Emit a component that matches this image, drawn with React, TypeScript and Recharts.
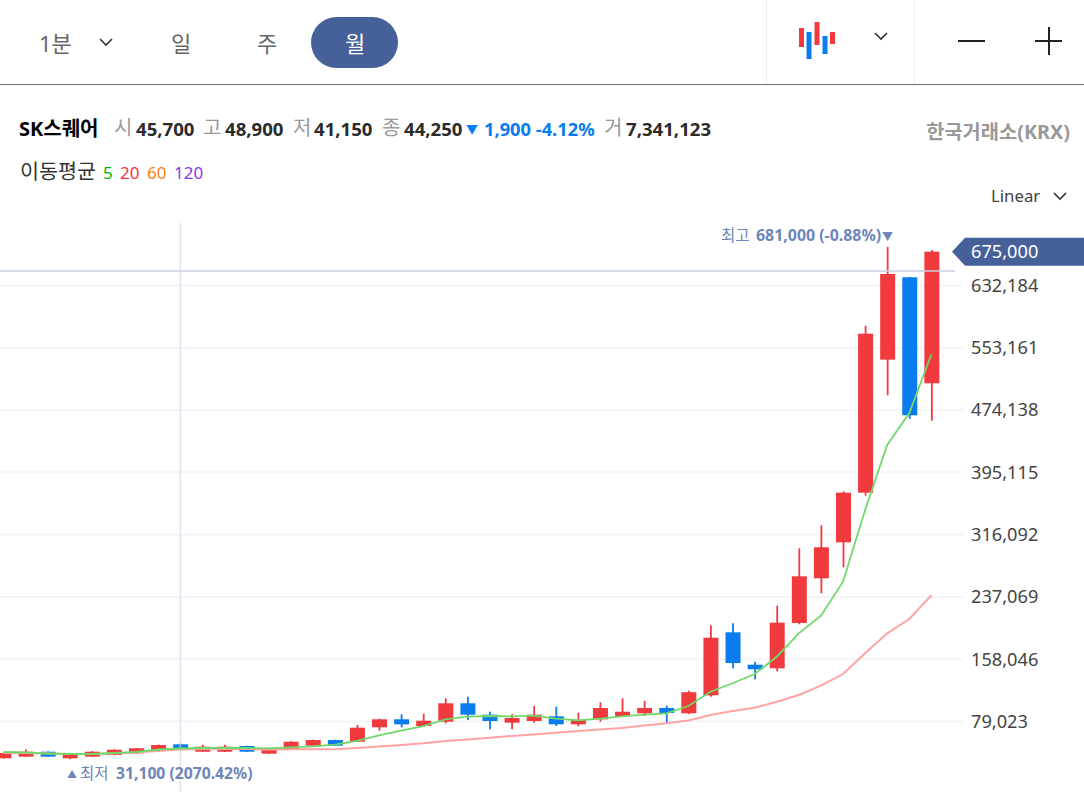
import React from "react";
import {
  ComposedChart,
  Bar,
  Line,
  XAxis,
  YAxis,
  CartesianGrid,
  ReferenceLine,
} from "recharts";

// monthly candles
const opens = [32350, 34400, 40700, 32350, 34400, 36550, 38700, 42500, 50100, 40700, 40700, 47950, 38200, 44150, 48350, 55550, 53400, 71650, 81800, 73300, 78750, 102100, 87650, 77500, 79650, 85600, 75450, 81800, 85600, 89400, 96150, 89400, 112250, 192150, 151050, 146500, 203950, 260650, 306300, 369250, 537950, 642450, 508000];
const highs = [39500, 43750, 41000, 38400, 41500, 44000, 45500, 49800, 51000, 49600, 49600, 48300, 45800, 54000, 56000, 56000, 74600, 82600, 88150, 88900, 108450, 110500, 91450, 88150, 98700, 97800, 90200, 103400, 108450, 105400, 99050, 118100, 201050, 203600, 154850, 225900, 298700, 327900, 371000, 581050, 681000, 643000, 677000];
const lows = [32000, 34400, 34000, 31100, 34000, 36000, 38000, 42000, 42400, 40300, 40300, 40400, 37800, 43800, 48000, 48000, 53000, 67350, 71650, 72450, 76750, 80950, 69150, 69150, 77500, 73300, 72950, 78750, 85600, 86000, 75850, 88500, 110500, 146500, 132550, 142700, 202300, 241650, 274600, 365450, 492800, 463100, 460550];
const closes = [39050, 40700, 34400, 38200, 40700, 43250, 45050, 49200, 42850, 47050, 47050, 40700, 45400, 53400, 55550, 48350, 71150, 81800, 75450, 80050, 102100, 87650, 79650, 83450, 87650, 75450, 81300, 96150, 91450, 96150, 89800, 116200, 185300, 153200, 145250, 204350, 263200, 300000, 369250, 570900, 646650, 467400, 675000];
const ma5 = [40350, 39700, 38450, 37800, 37800, 39050, 40350, 43500, 44800, 45400, 45400, 45400, 45050, 46300, 47550, 49600, 54300, 61500, 67350, 73300, 81800, 85100, 86000, 85600, 86400, 82600, 80550, 82600, 85600, 87650, 89400, 98700, 116800, 127500, 139250, 161200, 190900, 213200, 256350, 347300, 429750, 470300, 544800];
const ma20 = [39050, 39050, 38450, 37800, 37800, 38450, 39700, 41600, 43500, 44150, 44150, 44150, 43500, 43750, 43900, 43900, 45400, 47300, 49200, 51350, 54300, 56200, 58350, 60650, 62550, 64800, 66950, 68900, 70800, 73950, 76750, 80300, 87250, 92350, 96550, 104150, 112650, 124450, 139250, 165550, 190900, 209050, 239100];

const yTicks = [79023, 158046, 237069, 316092, 395115, 474138, 553161, 632184];
const lastPrice = 675000;
const crosshairPrice = 650400;
const crosshairIndex = 8;

const chartData = opens.map((open, i) => ({
  idx: i,
  open,
  high: highs[i],
  low: lows[i],
  close: closes[i],
  ma5: ma5[i],
  ma20: ma20[i],
}));

const FONT = '"Noto Sans", "Noto Sans CJK KR", sans-serif';
const RED = "#f03a3d";
const BLUE = "#0a7cf0";
const NAVY = "#466099";
const MARKER = "#6d86b8";

// wick + body, worked out from the bar's own low-high box
const Candle = (props: any) => {
  const { x, y, width, height, payload } = props;
  const color = payload.close >= payload.open ? RED : BLUE;
  const range = payload.high - payload.low || 1;
  const perValue = Math.abs(height) / range;
  const top = y + (payload.high - Math.max(payload.open, payload.close)) * perValue;
  const bodyH = Math.abs(payload.close - payload.open) * perValue;
  const cx = x + width / 2;
  return (
    <g>
      <rect x={cx - 0.9} y={y} width={1.8} height={Math.abs(height)} fill={color} />
      <rect x={x} y={top} width={width} height={bodyH} fill={color} />
    </g>
  );
};

const PriceTick = (props: any) => {
  const { x, y, payload } = props;
  const label = payload.value.toLocaleString("en-US");
  if (payload.value === lastPrice) {
    const left = x - 17;
    return (
      <g>
        <path
          d={`M${left} ${y} L${left + 13} ${y - 14} H${x + 121} V${y + 14} H${left + 13} Z`}
          fill={NAVY}
        />
        <text x={x + 2} y={y + 6.5} fill="#fff" fontSize={18.2} fontFamily={FONT}>
          {label}
        </text>
      </g>
    );
  }
  return (
    <text x={x + 2} y={y + 6.5} fill="#444" fontSize={18.2} fontFamily={FONT}>
      {label}
    </text>
  );
};

const Txt = ({ x, y, size = 18, color = "#333", bold = false, right, children }: any) => (
  <div
    style={{
      position: "absolute",
      left: right === undefined ? x : undefined,
      right: right === undefined ? undefined : 1084 - right,
      top: y,
      transform: "translateY(-50%)",
      fontSize: size,
      color,
      fontWeight: bold ? 700 : 400,
      whiteSpace: "nowrap",
      lineHeight: 1,
    }}
  >
    {children}
  </div>
);

const Chevron = ({ x, y }: { x: number; y: number }) => (
  <svg style={{ position: "absolute", left: x - 8, top: y - 5 }} width={16} height={10}>
    <path d="M2 2 L8 8 L14 2" fill="none" stroke="#333" strokeWidth={1.6} />
  </svg>
);

const quoteRow = [
  { label: "시", lx: 114, value: "45,700", vx: 136 },
  { label: "고", lx: 203, value: "48,900", vx: 225 },
  { label: "저", lx: 293, value: "41,150", vx: 314 },
  { label: "종", lx: 382, value: "44,250", vx: 404 },
];

export default function App() {
  return (
    <div
      style={{
        position: "absolute",
        left: 0,
        top: 0,
        width: 1084,
        height: 792,
        overflow: "hidden",
        background: "#fff",
        fontFamily: FONT,
      }}
    >
      <div style={{ position: "absolute", left: 0, top: 0 }}>
        <ComposedChart
          width={1084}
          height={792}
          data={chartData}
          margin={{ top: 223, right: 0, bottom: 0, left: 0 }}
        >
          <CartesianGrid
            vertical={false}
            stroke="#f3f5f9"
            strokeWidth={2}
            horizontalValues={yTicks}
          />
          <XAxis type="number" dataKey="idx" domain={[-0.158, 43.43]} hide />
          <YAxis
            orientation="right"
            width={121}
            domain={[-10399, 711320]}
            ticks={[...yTicks, lastPrice]}
            interval={0}
            axisLine={false}
            tickLine={false}
            tickMargin={0}
            tick={<PriceTick />}
          />
          <ReferenceLine x={crosshairIndex} stroke="#cfd8e6" strokeWidth={1} />
          <ReferenceLine
            segment={[
              { x: -0.158, y: crosshairPrice },
              { x: 43.07, y: crosshairPrice },
            ]}
            stroke="#c8d0df"
            strokeWidth={1.5}
          />
          <Bar
            dataKey={(d: any) => [d.low, d.high]}
            barSize={15}
            shape={<Candle />}
            isAnimationActive={false}
          />
          <Line
            dataKey="ma20"
            stroke="#ffa3a5"
            strokeWidth={2}
            dot={false}
            isAnimationActive={false}
          />
          <Line
            dataKey="ma5"
            stroke="#6fd868"
            strokeWidth={1.8}
            dot={false}
            isAnimationActive={false}
          />
        </ComposedChart>
      </div>

      {/* toolbar */}
      <div style={{ position: "absolute", left: 0, top: 84, width: 1084, height: 1, background: "#6b7280" }} />
      <div style={{ position: "absolute", left: 766, top: 0, width: 1, height: 84, background: "#eeeeee" }} />
      <div style={{ position: "absolute", left: 914, top: 0, width: 1, height: 84, background: "#eeeeee" }} />
      <div style={{ position: "absolute", left: 311, top: 17, width: 87, height: 51, borderRadius: 26, background: NAVY }} />
      <Txt x={39} y={43} size={22} color="#666">1분</Txt>
      <Chevron x={106} y={42} />
      <Txt x={171} y={43} size={22} color="#666">일</Txt>
      <Txt x={257} y={43} size={22} color="#666">주</Txt>
      <Txt x={345} y={43} size={22} color="#fff">월</Txt>
      <svg style={{ position: "absolute", left: 796, top: 18 }} width={45} height={45}>
        <rect x={3} y={10} width={5} height={19} fill={RED} />
        <rect x={10.5} y={14} width={5} height={27} fill={BLUE} />
        <rect x={18.5} y={4} width={5} height={23} fill={RED} />
        <rect x={26.5} y={18} width={5} height={18} fill={BLUE} />
        <rect x={34} y={14} width={5} height={12} fill={RED} />
      </svg>
      <Chevron x={881} y={36} />
      <div style={{ position: "absolute", left: 958, top: 40, width: 27, height: 2, background: "#222" }} />
      <div style={{ position: "absolute", left: 1035, top: 40, width: 27, height: 2, background: "#222" }} />
      <div style={{ position: "absolute", left: 1048, top: 27, width: 2, height: 28, background: "#222" }} />

      {/* quote row */}
      <Txt x={19} y={129} size={20} color="#000" bold>SK스퀘어</Txt>
      {quoteRow.map((q) => (
        <React.Fragment key={q.label}>
          <Txt x={q.lx} y={128} size={20} color="#999">{q.label}</Txt>
          <Txt x={q.vx} y={129} size={18.6} color="#2b2b2b" bold>{q.value}</Txt>
        </React.Fragment>
      ))}
      <Txt x={466} y={130} size={12} color={BLUE}>▼</Txt>
      <Txt x={484} y={129} size={18.3} color={BLUE} bold>1,900 -4.12%</Txt>
      <Txt x={604} y={128} size={20} color="#999">거</Txt>
      <Txt x={626} y={129} size={18.6} color="#2b2b2b" bold>7,341,123</Txt>
      <Txt right={1070} y={132} size={19.8} color="#999" bold>한국거래소(KRX)</Txt>

      {/* moving average legend */}
      <Txt x={20} y={171} size={20.7} color="#333">이동평균</Txt>
      <Txt x={103} y={172} size={17} color="#00b400">5</Txt>
      <Txt x={120} y={172} size={17} color="#f5333f">20</Txt>
      <Txt x={147} y={172} size={17} color="#f97f16">60</Txt>
      <Txt x={174} y={172} size={17} color="#8a35f0">120</Txt>

      <Txt x={991} y={196} size={16.8} color="#444">Linear</Txt>
      <Chevron x={1060} y={196} />

      {/* high / low markers */}
      <Txt x={721} y={236} size={15.5} color={MARKER}>최고</Txt>
      <Txt x={756} y={236} size={15.9} color={MARKER} bold>681,000 (-0.88%)</Txt>
      <Txt x={882} y={236} size={11} color={MARKER}>▼</Txt>
      <Txt x={67} y={774} size={10} color={MARKER}>▲</Txt>
      <Txt x={80} y={774} size={15.5} color={MARKER}>최저</Txt>
      <Txt x={116} y={774} size={15.7} color={MARKER} bold>31,100 (2070.42%)</Txt>
    </div>
  );
}
